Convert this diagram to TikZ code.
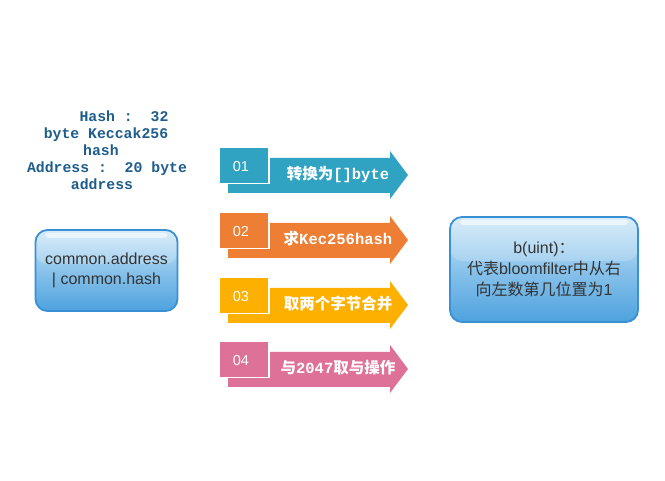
\documentclass[tikz,border=0pt]{standalone}
\usepackage{fontspec}
\setmainfont{Liberation Sans}
\newfontfamily\cjk{Noto Sans CJK SC}
\newfontfamily\monob{Liberation Mono}
\definecolor{arrA}{HTML}{2FA3C1}
\definecolor{arrB}{HTML}{EE7E33}
\definecolor{arrC}{HTML}{FDB000}
\definecolor{arrD}{HTML}{DE7197}
\definecolor{toptext}{HTML}{1E5D8C}
\definecolor{boxborder}{HTML}{3B8FD5}
\definecolor{boxtop}{HTML}{D2EAFA}
\definecolor{boxbot}{HTML}{4EA2DE}
\definecolor{boxtext}{HTML}{333333}
\begin{document}
\begin{tikzpicture}[x=1pt,y=-1pt,
  tabbox/.style={draw=white, line width=1.5pt, minimum width=50pt, minimum height=36pt, inner sep=0pt, anchor=north west},
  tablabel/.style={text=white, font=\fontsize{14.5}{14.5}\selectfont, inner sep=0pt, anchor=base},
  arrowtext/.style={text=white, font=\fontsize{15.5}{15.5}\selectfont\bfseries, inner sep=0pt, anchor=base},
  toplabel/.style={text=toptext, font=\monob\bfseries\fontsize{14.8}{15}\selectfont, inner sep=0pt, anchor=base},
  bluebox/.style={draw=boxborder, line width=1.8pt, rounded corners=12pt,
    top color=boxtop, bottom color=boxbot, middle color=boxbot!55!boxtop,
    text=boxtext, align=center, inner sep=2pt,
    path picture={
      \fill[white,opacity=0.18] (path picture bounding box.north west) rectangle ([yshift=-0.42*\pgfkeysvalueof{/pgf/minimum height}]path picture bounding box.north east);
      \fill[white,opacity=0.55,rounded corners=3pt] ([xshift=10pt,yshift=-3pt]path picture bounding box.north west) rectangle ([xshift=-10pt,yshift=-8pt]path picture bounding box.north east);
    }}
]
\useasboundingbox (0,0) rectangle (665,481);
\fill[white] (0,0) rectangle (665,481);

% top-left description
\node[toplabel] (d1) at (124,122) {Hash :~~32};
\node[toplabel] (d2) at (106,139) {byte Keccak256};
\node[toplabel] (d3) at (101,156) {hash};
\node[toplabel] (d4) at (107,173) {Address :~~20 byte};
\node[toplabel] (d5) at (102,190) {address};

% step arrows
\foreach \t/\c/\n/\txt in {
  147/arrA/01/{{\cjk 转换为}{\monob []byte}},
  212/arrB/02/{{\cjk 求}{\monob Kec256hash}},
  277/arrC/03/{{\cjk 取两个字节合并}},
  341/arrD/04/{{\cjk 与}{\monob 2047}{\cjk 取与操作}}}{
  \fill[\c] (228,\t+11) -- (390,\t+11) -- (390,\t+4) -- (408,\t+28) -- (390,\t+52) -- (390,\t+46) -- (228,\t+46) -- cycle;
  \node[tabbox, fill=\c] (tab\n) at (218,\t) {};
  \node[tablabel] (lab\n) at (241,\t+24.5) {\n};
  \node[arrowtext] (txt\n) at (338,\t+33) {\txt};
}

% source box
\node[bluebox, minimum width=142pt, minimum height=81pt,
  font=\fontsize{16}{19.5}\selectfont] (src) at (106.5,270.5)
  {\raisebox{-2pt}{common.address}\\\raisebox{-2pt}{| common.hash}};

% result box
\node[bluebox, minimum width=188pt, minimum height=105pt,
  font=\fontsize{16}{21}\selectfont] (res) at (544,269.5)
  {b(uint){\cjk ：}\\{\cjk 代表}bloomfilter{\cjk 中从右}\\{\cjk 向左数第几位置为}1};
\end{tikzpicture}
\end{document}
